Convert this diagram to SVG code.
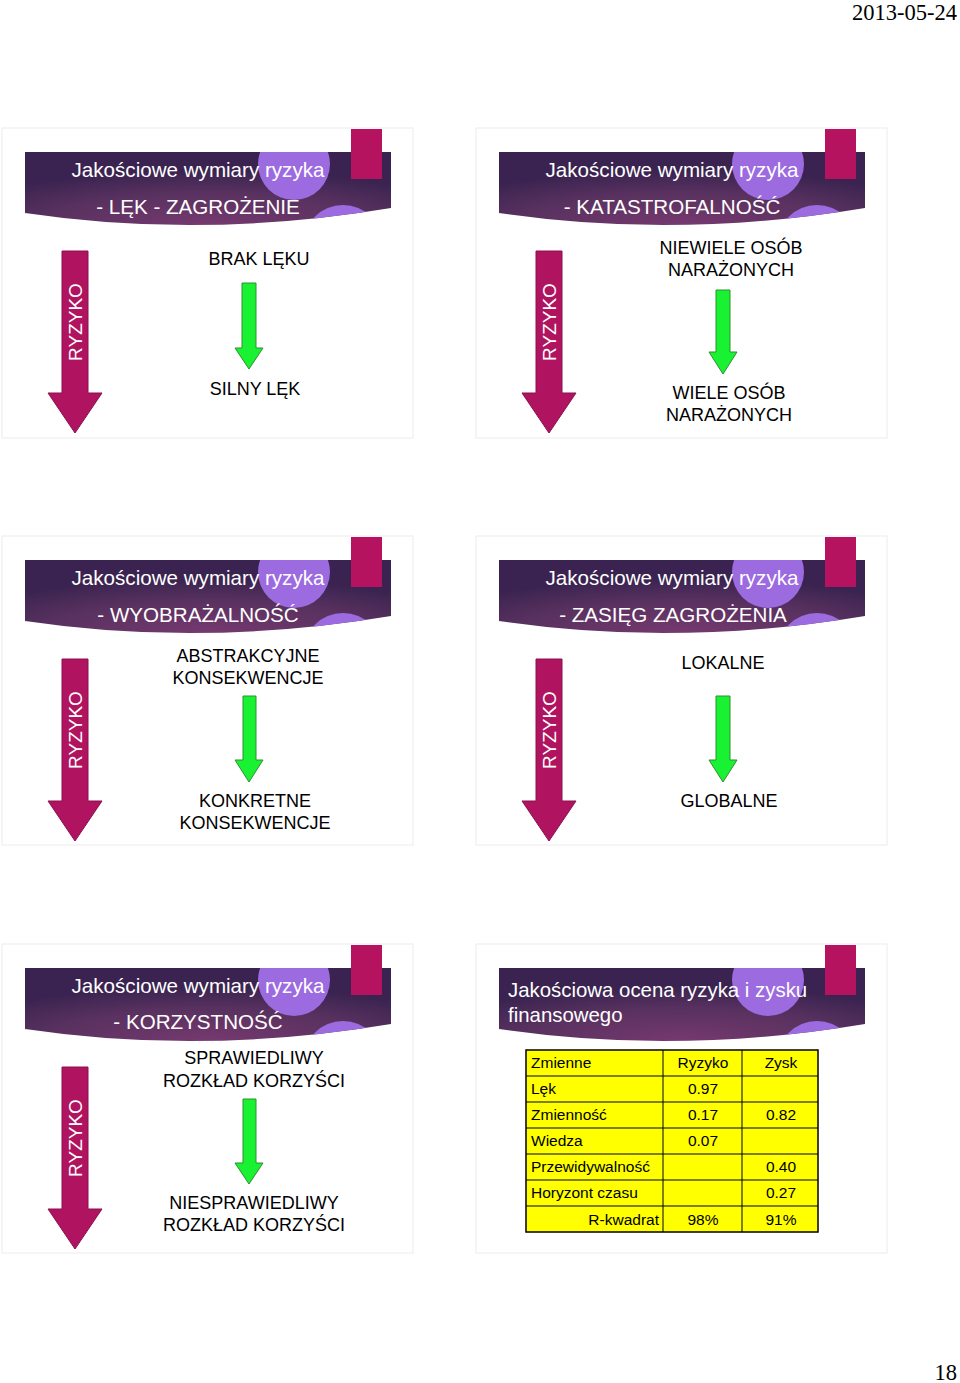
<svg xmlns="http://www.w3.org/2000/svg" width="960" height="1383" viewBox="0 0 960 1383">
<style>
.frame{fill:#fff;stroke:#ececec;stroke-width:1}
.ttl{font-family:"Liberation Sans",Arial,sans-serif;font-size:20.6px;fill:#fff;text-anchor:middle}
.ttll{font-family:"Liberation Sans",Arial,sans-serif;font-size:20.4px;fill:#fff}
.body{font-family:"Liberation Sans",Arial,sans-serif;font-size:18px;fill:#000;text-anchor:middle}
.ryz{font-family:"Liberation Sans",Arial,sans-serif;font-size:19px;fill:#fff;text-anchor:middle}
.big{fill:#B0135F;stroke:#8c1150;stroke-width:1}
.green{fill:#19F233;stroke:#2f8f2f;stroke-width:1}
.tb{font-family:"Liberation Sans",Arial,sans-serif;font-size:15.5px;fill:#000}
.tc{font-family:"Liberation Sans",Arial,sans-serif;font-size:15.5px;fill:#000;text-anchor:middle}
.tr{font-family:"Liberation Sans",Arial,sans-serif;font-size:15.5px;fill:#000;text-anchor:end}
.pg{font-family:"Liberation Serif","Times New Roman",serif;font-size:22.5px;fill:#000;text-anchor:end}
</style>
<defs>
<radialGradient id="bandGrad" cx="0.5" cy="1" r="0.75" gradientUnits="objectBoundingBox">
<stop offset="0" stop-color="#76396f"/>
<stop offset="0.6" stop-color="#58315f"/>
<stop offset="1" stop-color="#3a2350"/>
</radialGradient>
<clipPath id="bandClip" clipPathUnits="userSpaceOnUse">
<path d="M23,24 H389 V80 Q200,111.5 23,85 Z"/>
</clipPath>
<g id="hdr">
<path d="M23,24 H389 V80 Q200,111.5 23,85 Z" fill="url(#bandGrad)"/>
<g clip-path="url(#bandClip)">
<circle cx="292" cy="36" r="36" fill="#9B6BDF"/>
<circle cx="341" cy="117" r="40" fill="#9B6BDF"/>
</g>
<rect x="349" y="1" width="31" height="50" fill="#B5135F"/>
</g>
<path id="bigArrow" class="big" d="M60,123 H86 V265 H100 L73,305 L46,265 H60 Z"/>
</defs>

<rect width="960" height="1383" fill="#fff"/>

<text class="pg" x="957" y="20">2013-05-24</text>
<text class="pg" x="957" y="1380">18</text>

<!-- Slide 1 -->
<g id="slide1">
<rect class="frame" x="2" y="128" width="411" height="310"/>
<g transform="translate(2,128)">
<use href="#hdr"/>
<use href="#bigArrow"/>
<text class="ryz" x="80" y="194" transform="rotate(-90 80 194)">RYZYKO</text>
</g>
<text class="ttl" x="198" y="177">Jakościowe wymiary ryzyka</text>
<text class="ttl" x="198" y="214">- LĘK - ZAGROŻENIE</text>
<text class="body" x="259" y="265">BRAK LĘKU</text>
<text class="body" x="255" y="395">SILNY LĘK</text>
</g>

<!-- Slide 2 -->
<g id="slide2">
<rect class="frame" x="476" y="128" width="411" height="310"/>
<g transform="translate(476,128)">
<use href="#hdr"/>
<use href="#bigArrow"/>
<text class="ryz" x="80" y="194" transform="rotate(-90 80 194)">RYZYKO</text>
</g>
<text class="ttl" x="672" y="177">Jakościowe wymiary ryzyka</text>
<text class="ttl" x="672" y="214">- KATASTROFALNOŚĆ</text>
<text class="body" x="731" y="254">NIEWIELE OSÓB</text>
<text class="body" x="731" y="276">NARAŻONYCH</text>
<text class="body" x="729" y="399">WIELE OSÓB</text>
<text class="body" x="729" y="421">NARAŻONYCH</text>
</g>

<!-- Slide 3 -->
<g id="slide3">
<rect class="frame" x="2" y="536" width="411" height="309"/>
<g transform="translate(2,536)">
<use href="#hdr"/>
<use href="#bigArrow"/>
<text class="ryz" x="80" y="194" transform="rotate(-90 80 194)">RYZYKO</text>
</g>
<text class="ttl" x="198" y="585">Jakościowe wymiary ryzyka</text>
<text class="ttl" x="198" y="622">- WYOBRAŻALNOŚĆ</text>
<text class="body" x="248" y="662">ABSTRAKCYJNE</text>
<text class="body" x="248" y="684">KONSEKWENCJE</text>
<text class="body" x="255" y="807">KONKRETNE</text>
<text class="body" x="255" y="829">KONSEKWENCJE</text>
</g>

<!-- Slide 4 -->
<g id="slide4">
<rect class="frame" x="476" y="536" width="411" height="309"/>
<g transform="translate(476,536)">
<use href="#hdr"/>
<use href="#bigArrow"/>
<text class="ryz" x="80" y="194" transform="rotate(-90 80 194)">RYZYKO</text>
</g>
<text class="ttl" x="672" y="585">Jakościowe wymiary ryzyka</text>
<text class="ttl" x="673" y="622">- ZASIĘG ZAGROŻENIA</text>
<text class="body" x="723" y="669">LOKALNE</text>
<text class="body" x="729" y="807">GLOBALNE</text>
</g>

<!-- Slide 5 -->
<g id="slide5">
<rect class="frame" x="2" y="944" width="411" height="309"/>
<g transform="translate(2,944)">
<use href="#hdr"/>
<use href="#bigArrow"/>
<text class="ryz" x="80" y="194" transform="rotate(-90 80 194)">RYZYKO</text>
</g>
<text class="ttl" x="198" y="993">Jakościowe wymiary ryzyka</text>
<text class="ttl" x="198" y="1029">- KORZYSTNOŚĆ</text>
<text class="body" x="254" y="1064">SPRAWIEDLIWY</text>
<text class="body" x="254" y="1087">ROZKŁAD KORZYŚCI</text>
<text class="body" x="254" y="1209">NIESPRAWIEDLIWY</text>
<text class="body" x="254" y="1231">ROZKŁAD KORZYŚCI</text>
</g>

<!-- Slide 6 -->
<g id="slide6">
<rect class="frame" x="476" y="944" width="411" height="309"/>
<g transform="translate(476,944)">
<use href="#hdr"/>
</g>
<text class="ttll" x="508" y="997">Jakościowa ocena ryzyka i zysku</text>
<text class="ttll" x="508" y="1022">finansowego</text>
<g id="table">
<rect x="526" y="1050" width="292" height="182" fill="#FFFF00" stroke="#000" stroke-width="1.5"/>
<path d="M663,1050 V1232 M742,1050 V1232 M526,1076 H818 M526,1102 H818 M526,1128 H818 M526,1154 H818 M526,1180 H818 M526,1206 H818" stroke="#000" stroke-width="1" fill="none"/>
<text class="tb" x="531" y="1068">Zmienne</text>
<text class="tc" x="703" y="1068">Ryzyko</text>
<text class="tc" x="781" y="1068">Zysk</text>
<text class="tb" x="531" y="1094">Lęk</text>
<text class="tc" x="703" y="1094">0.97</text>
<text class="tb" x="531" y="1120">Zmienność</text>
<text class="tc" x="703" y="1120">0.17</text>
<text class="tc" x="781" y="1120">0.82</text>
<text class="tb" x="531" y="1146">Wiedza</text>
<text class="tc" x="703" y="1146">0.07</text>
<text class="tb" x="531" y="1172">Przewidywalność</text>
<text class="tc" x="781" y="1172">0.40</text>
<text class="tb" x="531" y="1198">Horyzont czasu</text>
<text class="tc" x="781" y="1198">0.27</text>
<text class="tr" x="659" y="1225">R-kwadrat</text>
<text class="tc" x="703" y="1225">98%</text>
<text class="tc" x="781" y="1225">91%</text>
</g>
</g>

<g id="connectors">
<path class="green" d="M242,283 H256 V348 H263 L249,369 L235,348 H242 Z"/>
<path class="green" d="M716,290 H730 V352 H737 L723,374 L709,352 H716 Z"/>
<path class="green" d="M243,696 H256 V760 H263 L249,782 L235,760 H243 Z"/>
<path class="green" d="M716,696 H730 V760 H737 L723,782 L709,760 H716 Z"/>
<path class="green" d="M243,1099 H256 V1163 H263 L249,1184 L235,1163 H243 Z"/>
</g>
</svg>
